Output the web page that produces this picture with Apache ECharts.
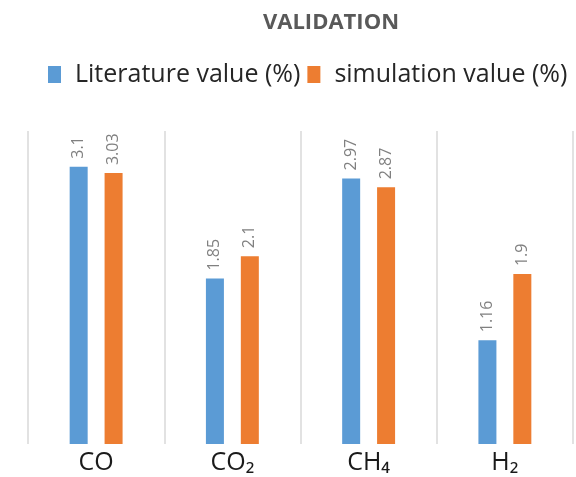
<!DOCTYPE html>
<html>
<head>
<meta charset="utf-8">
<script src="https://cdn.jsdelivr.net/npm/echarts@6/dist/echarts.min.js"></script>
<style>
html,body{margin:0;padding:0;background:#fff;}
#chart{width:576px;height:477px;}
</style>
</head>
<body>
<div id="chart"></div>
<script>
const categories = ['CO', 'CO₂', 'CH₄', 'H₂'];
const literatureValues = [3.1, 1.85, 2.97, 1.16];
const simulationValues = [3.03, 2.1, 2.87, 1.9];
const seriesNames = ['Literature value (%)', 'simulation value (%)'];
const titleText = 'VALIDATION';

const chart = echarts.init(document.getElementById('chart'));
const labelStyle = {
  show: true,
  position: 'top',
  rotate: 90,
  align: 'left',
  verticalAlign: 'middle',
  distance: 8,
  color: '#808080',
  fontSize: 16,
  fontFamily: 'Open Sans'
};
chart.setOption({
  animation: false,
  title: {
    text: titleText,
    left: 326,
    textAlign: 'center',
    top: 7,
    textStyle: {fontFamily: 'Open Sans', fontWeight: 'bold', fontSize: 22, color: '#595959'}
  },
  legend: {
    data: seriesNames,
    left: 43,
    top: 57,
    icon: 'rect',
    itemWidth: 13,
    itemHeight: 17,
    itemGap: 7,
    textStyle: {fontFamily: 'Open Sans', fontSize: 25, color: '#262626', padding: [0, 0, 0, 9]}
  },
  grid: {left: 28, right: 3, top: 131, bottom: 33},
  xAxis: {
    type: 'category',
    data: categories,
    axisLine: {show: false},
    axisTick: {show: false},
    splitLine: {show: true, lineStyle: {color: '#d9d9d9', width: 1.5}},
    axisLabel: {fontFamily: 'Open Sans', fontSize: 25, color: '#1a1a1a', margin: 6}
  },
  yAxis: {
    type: 'value',
    min: 0,
    max: 3.5,
    show: false,
    splitLine: {show: false}
  },
  series: [
    {
      name: seriesNames[0],
      type: 'bar',
      data: literatureValues,
      barWidth: 18,
      barGap: '94%',
      itemStyle: {color: '#5b9bd5', borderColor: '#41719c', borderWidth: 0},
      label: labelStyle
    },
    {
      name: seriesNames[1],
      type: 'bar',
      data: simulationValues,
      barWidth: 18,
      barGap: '94%',
      itemStyle: {color: '#ed7d31', borderColor: '#ae5a21', borderWidth: 0},
      label: labelStyle
    }
  ]
});
</script>
</body>
</html>
